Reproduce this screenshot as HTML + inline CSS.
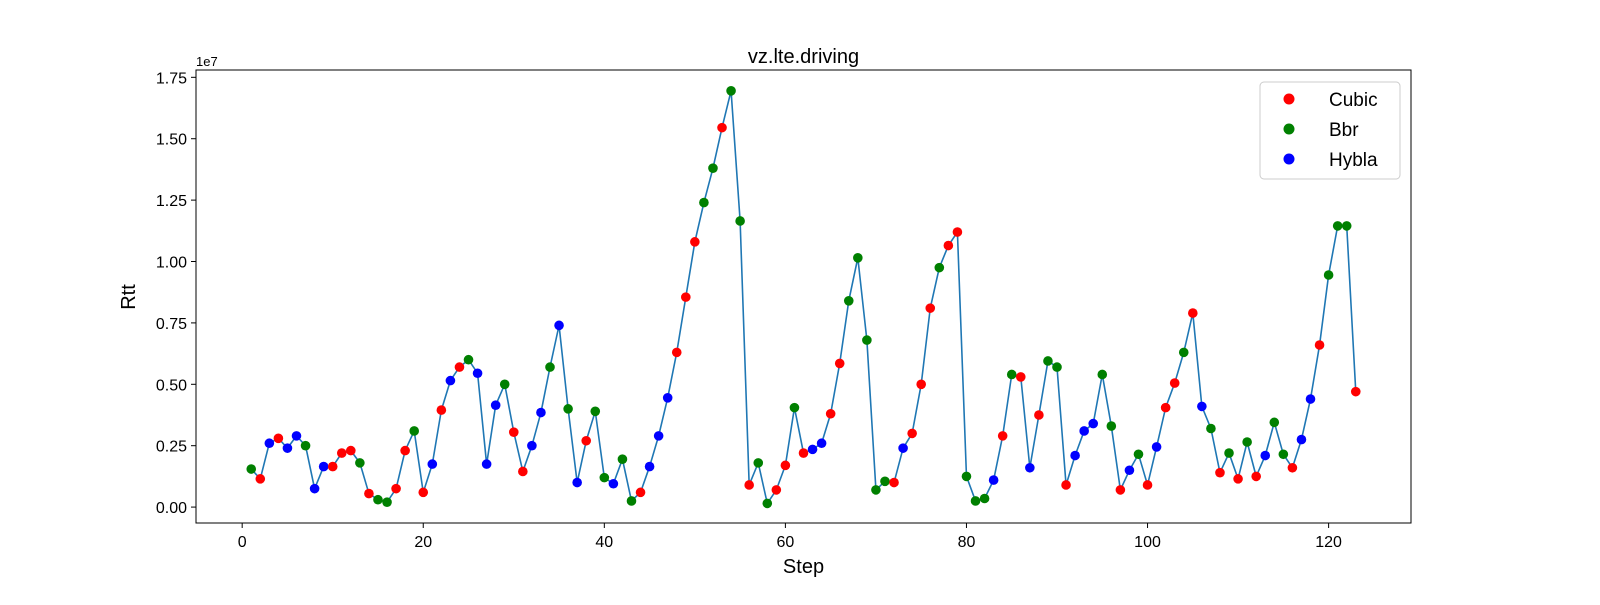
<!DOCTYPE html>
<html><head><meta charset="utf-8"><style>
body{margin:0;background:#fff;}
svg text{font-family:"Liberation Sans","DejaVu Sans",sans-serif;fill:#000;}
</style></head><body>
<svg id="chart" width="1600" height="600" xmlns="http://www.w3.org/2000/svg">
<rect width="1600" height="600" fill="#fff"/>
<g id="plot"></g>
<rect x="196" y="70" width="1215" height="453" fill="none" stroke="#000" stroke-width="1"/>
<text x="803.5" y="63" font-size="20" text-anchor="middle">vz.lte.driving</text>
<text x="803.5" y="573" font-size="20" text-anchor="middle">Step</text>
<text x="135" y="297" font-size="20" text-anchor="middle" transform="rotate(-90 135 297)">Rtt</text>
<text x="196" y="66" font-size="13">1e7</text>
<g>
<rect x="1260" y="82" width="140" height="97" rx="4" fill="#fff" fill-opacity="0.8" stroke="#ccc"/>
<circle cx="1289" cy="99" r="5.5" fill="#ff0000"/>
<text x="1329" y="106" font-size="19">Cubic</text>
<circle cx="1289" cy="129" r="5.5" fill="#008000"/>
<text x="1329" y="136" font-size="19">Bbr</text>
<circle cx="1289" cy="159" r="5.5" fill="#0000ff"/>
<text x="1329" y="166" font-size="19">Hybla</text>
</g>
</svg>
<script>
const rttValues=[0.155,0.115,0.26,0.28,0.24,0.29,0.25,0.075,0.165,0.165,0.22,0.23,0.18,0.055,0.03,0.02,0.075,0.23,0.31,0.06,0.175,0.395,0.515,0.57,0.60,0.545,0.175,0.415,0.50,0.305,0.145,0.25,0.385,0.57,0.74,0.40,0.10,0.27,0.39,0.12,0.095,0.195,0.025,0.06,0.165,0.29,0.445,0.63,0.855,1.08,1.24,1.38,1.545,1.695,1.165,0.09,0.18,0.015,0.07,0.17,0.405,0.22,0.235,0.26,0.38,0.585,0.84,1.015,0.68,0.07,0.105,0.10,0.24,0.30,0.50,0.81,0.975,1.065,1.12,0.125,0.025,0.035,0.11,0.29,0.54,0.53,0.16,0.375,0.595,0.57,0.09,0.21,0.31,0.34,0.54,0.33,0.07,0.15,0.215,0.09,0.245,0.405,0.505,0.63,0.79,0.41,0.32,0.14,0.22,0.115,0.265,0.125,0.21,0.345,0.215,0.16,0.275,0.44,0.66,0.945,1.145,1.145,0.47];
const algos="GRBRBBGBBRRRGRGGRRGRBRBRGBBBGRRBBGBGBRGGBGGRBBBRRRGGRGGRGGRRGRBBRRGGGGGRBRRRGRRGGGBRGRBRGGRBBBGGRBGRBRRGRBGRGRGRBGGRBBRGGGR".split("");
const xTicks=[0,20,40,60,80,100,120];
const yTicks=[0,0.25,0.5,0.75,1.0,1.25,1.5,1.75];
const yTickLabels=["0.00","0.25","0.50","0.75","1.00","1.25","1.50","1.75"];
const colorMap={R:"#ff0000",G:"#008000",B:"#0000ff"};
const X0=196,X1=1411,Y0=523,Y1=70;
const xMin=-5.1,xMax=129.1,yMin=-0.0648,yMax=1.7798;
const sx=v=>X0+(v-xMin)/(xMax-xMin)*(X1-X0);
const sy=v=>Y0-(v-yMin)/(yMax-yMin)*(Y0-Y1);
const NS="http://www.w3.org/2000/svg";
const g=document.getElementById("plot");
function mk(t,a){const e=document.createElementNS(NS,t);for(const k in a)e.setAttribute(k,a[k]);g.appendChild(e);return e;}
xTicks.forEach(t=>{
 const l=mk("line",{x1:sx(t),x2:sx(t),y1:Y0,y2:Y0+5,stroke:"#000"});
 
 
 const tx=mk("text",{x:sx(t),y:Y0+24,"font-size":16,"text-anchor":"middle"});tx.textContent=t;
 
 
});
yTicks.forEach((t,i)=>{
 const l=mk("line",{x1:X0-5,x2:X0,y1:sy(t),y2:sy(t),stroke:"#000"});
 
 
 const tx=mk("text",{x:X0-9,y:sy(t)+6,"font-size":16,"text-anchor":"end"});tx.textContent=yTickLabels[i];
 
 
});
const pts=rttValues.map((v,i)=>sx(i+1).toFixed(2)+","+sy(v).toFixed(2)).join(" ");
const line=mk("polyline",{points:pts,fill:"none",stroke:"#1f77b4","stroke-width":1.6,"stroke-linejoin":"round"});


rttValues.forEach((v,i)=>{
 const c=mk("circle",{cx:sx(i+1),cy:sy(v),r:4.8,fill:colorMap[algos[i]]});
 
 
});
</script>
</body></html>
